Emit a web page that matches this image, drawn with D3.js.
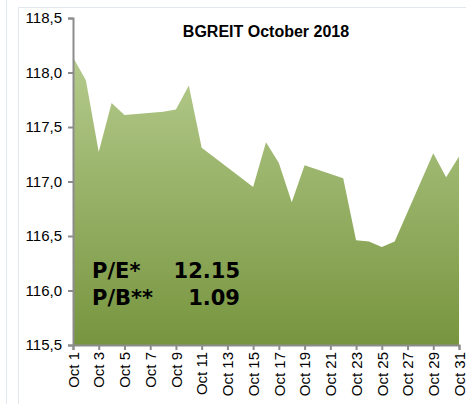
<!DOCTYPE html>
<html><head><meta charset="utf-8">
<script src="https://cdn.jsdelivr.net/npm/d3@7"></script>
<style>body{margin:0;background:#fff}svg{display:block}</style>
</head><body><svg id="c" width="467" height="404"></svg>
<script>
const title = "BGREIT October 2018";
const days = [1,2,3,4,5,8,9,10,11,12,15,16,17,18,19,22,23,24,25,26,29,30,31];
const values = [118.14,117.93,117.27,117.72,117.61,117.64,117.66,117.88,117.31,117.22,116.95,117.36,117.17,116.81,117.15,117.03,116.46,116.45,116.40,116.45,117.26,117.04,117.23];
const yTicks = [115.5,116.0,116.5,117.0,117.5,118.0,118.5];
const xTickDays = [1,3,5,7,9,11,13,15,17,19,21,23,25,27,29,31];
const notes = [["P/E*","12.15"],["P/B**","1.09"]];

const svg = d3.select("#c");
const font = "'Liberation Sans', Arial, sans-serif";
const boldFont = "'DejaVu Sans', sans-serif";
// frame
svg.append("line").attr("x1",6.5).attr("x2",6.5).attr("y1",0).attr("y2",404).attr("stroke","#e3e8f0");
svg.append("line").attr("x1",18.5).attr("x2",18.5).attr("y1",7).attr("y2",404).attr("stroke","#e3e8f0");
svg.append("line").attr("x1",18).attr("x2",466).attr("y1",7.5).attr("y2",7.5).attr("stroke","#e3e8f0");

const x = d3.scaleLinear().domain([1,31]).range([73,459]);
const y = d3.scaleLinear().domain([115.5,118.5]).range([345,18]);

const defs = svg.append("defs");
const g = defs.append("linearGradient").attr("id","gr").attr("x1",0).attr("x2",0)
  .attr("gradientUnits","userSpaceOnUse").attr("y1",y(118.2)).attr("y2",y(115.5));
g.append("stop").attr("offset",0).attr("stop-color","#b6cc8e");
g.append("stop").attr("offset",1).attr("stop-color","#77953f");

const data = days.map((d,i)=>({d, v: values[i]}));
const area = d3.area().x(p=>x(p.d)).y0(y(115.5)).y1(p=>y(p.v));
svg.append("path").datum(data).attr("d",area).attr("fill","url(#gr)");

// y axis
const ya = svg.append("g").attr("transform","translate(73,0)").call(d3.axisLeft(y).tickValues(yTicks).tickSize(5).tickPadding(6).tickFormat(d=>d3.format(".1f")(d).replace(".",",")));
ya.select(".domain").attr("stroke","#8c8c8c").attr("stroke-width",2);
ya.selectAll(".tick line").attr("stroke","#8c8c8c").attr("stroke-width",2);
ya.selectAll("text").attr("font-family",font).attr("font-size",15).attr("fill","#000");

// x axis
const xa = svg.append("g").attr("transform","translate(0,345)").call(d3.axisBottom(x).tickValues(xTickDays).tickSize(5).tickFormat(d=>"Oct "+d));
xa.select(".domain").attr("stroke","#8c8c8c").attr("stroke-width",2);
xa.selectAll(".tick line").attr("stroke","#8c8c8c").attr("stroke-width",2);
xa.selectAll("text").attr("font-family",font).attr("font-size",15).attr("fill","#000")
  .attr("transform","rotate(-90)").attr("text-anchor","end").attr("x",-7).attr("y",0).attr("dy","0.35em");

// title
svg.append("text").attr("x",266).attr("y",37).attr("text-anchor","middle").attr("font-family",font)
  .attr("font-weight","bold").attr("font-size",16).attr("fill","#000").text(title);

// notes
notes.forEach((n,i)=>{
  const yy = 278 + i*27;
  svg.append("text").attr("x",92).attr("y",yy).attr("font-family",boldFont).attr("font-weight","bold").attr("font-size",21).text(n[0]);
  svg.append("text").attr("x",240).attr("y",yy).attr("text-anchor","end").attr("font-family",boldFont).attr("font-weight","bold").attr("font-size",21).text(n[1]);
});
</script></body></html>
